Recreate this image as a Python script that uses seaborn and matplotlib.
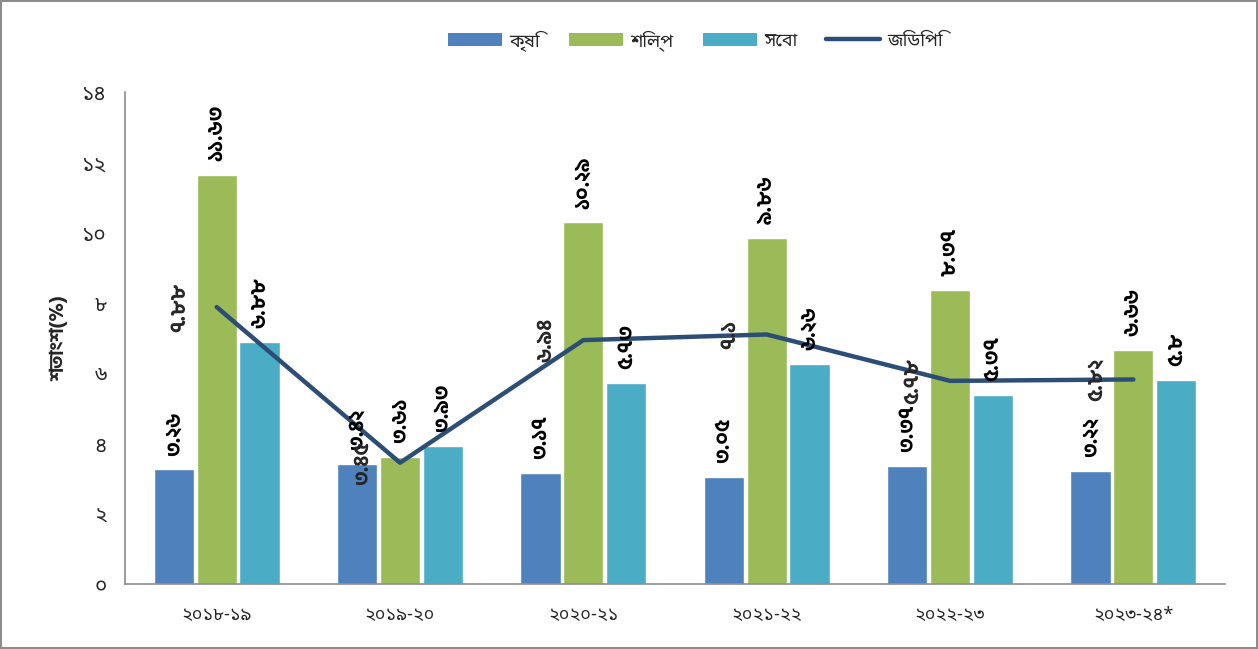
import matplotlib
matplotlib.use('Agg')
import matplotlib.pyplot as plt
from matplotlib.patches import Patch
from matplotlib.lines import Line2D
import seaborn as sns
import pandas as pd

years = ['2018-19', '2019-20', '2020-21', '2021-22', '2022-23', '2023-24*']
sectors = ['কৃষি', 'শিল্প', 'সেবা']
gdp_name = 'জিডিপি'
agri = [3.26, 3.42, 3.17, 3.05, 3.37, 3.22]
industry = [11.63, 3.61, 10.29, 9.86, 8.37, 6.66]
service = [6.88, 3.93, 5.73, 6.26, 5.37, 5.8]
gdp = [7.88, 3.45, 6.94, 7.1, 5.78, 5.82]
y_ticks = [0, 2, 4, 6, 8, 10, 12, 14]
y_label = 'শতাংশ(%)'

colors = ['#4F81BD', '#9BBB59', '#4BACC6']
line_color = '#2C4D75'
regular_font = ['Noto Sans Bengali', 'DejaVu Sans']
bold_font = ['Hind Siliguri', 'DejaVu Sans']


def bn(s):
    return str(s).translate(str.maketrans('0123456789', '০১২৩৪৫৬৭৮৯'))


sns.set_style('white')
plt.rcParams['font.family'] = regular_font

df = pd.DataFrame({
    'year': years * 3,
    'sector': [s for s in sectors for _ in years],
    'value': agri + industry + service,
})

fig = plt.figure(figsize=(12.58, 6.49), dpi=100)
fig.patch.set_edgecolor('#8c8c8c')
fig.patch.set_linewidth(1.5)
ax = fig.add_axes([0.0994, 0.1002, 0.8744, 0.758])

sns.barplot(data=df, x='year', y='value', hue='sector', palette=colors, saturation=1,
            width=0.7, gap=0.06, errorbar=None, legend=False, ax=ax)
sns.lineplot(x=list(range(len(years))), y=gdp, color=line_color, linewidth=3.2,
             solid_capstyle='round', ax=ax)

for cont, vals in zip(ax.containers, [agri, industry, service]):
    ax.bar_label(cont, labels=[bn(f'{v:g}') for v in vals], rotation=90, padding=10,
                 fontsize=15, fontweight='bold', family=bold_font, color='black')

for i, v in enumerate(gdp):
    ax.annotate(bn(f'{v:g}'), (i, v), xytext=(-20, 0), textcoords='offset points',
                ha='right', va='center', rotation=90, fontsize=15, fontweight='bold',
                family=bold_font)

ax.set_ylim(0, 14)
ax.set_xlim(-0.5, len(years) - 0.5)
ax.set_yticks(y_ticks)
ax.set_yticklabels([bn(t) for t in y_ticks], fontsize=15)
ax.set_xticks(range(len(years)))
ax.set_xticklabels([bn(y) for y in years], fontsize=13)
ax.set_xticks([i - 0.5 for i in range(len(years) + 1)], minor=True)
ax.tick_params(axis='x', which='major', length=0, pad=16)
ax.tick_params(axis='x', which='minor', length=8, color='#8c8c8c', width=1)
ax.tick_params(axis='y', length=5, color='#8c8c8c', width=1, pad=8)
ax.set_xlabel('')
ax.set_ylabel(y_label, fontsize=14, fontweight='bold', family=bold_font, labelpad=10)

for side in ['top', 'right']:
    ax.spines[side].set_visible(False)
for side in ['left', 'bottom']:
    ax.spines[side].set_color('#8c8c8c')
    ax.spines[side].set_linewidth(1.2)

handles = [Patch(facecolor=c, edgecolor='none') for c in colors]
handles.append(Line2D([0], [0], color=line_color, linewidth=3.2, solid_capstyle='round'))
fig.legend(handles, sectors + [gdp_name], loc='center', bbox_to_anchor=(0.553, 0.938),
           ncol=4, frameon=False, fontsize=13, handlelength=3.0, handleheight=0.8,
           columnspacing=1.6, handletextpad=0.4)

fig.savefig('out.png', dpi=100)
